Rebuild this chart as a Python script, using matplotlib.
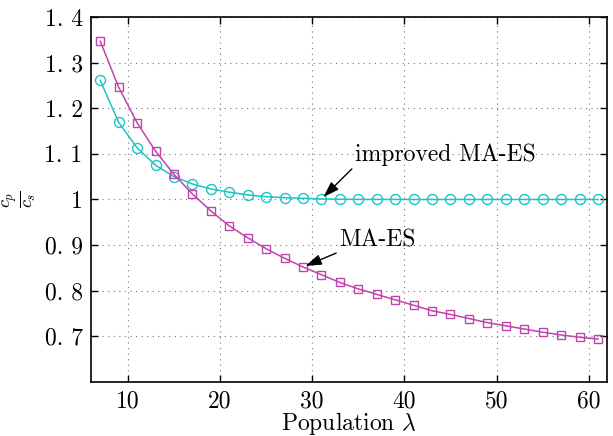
import matplotlib
matplotlib.use("Agg")
import matplotlib.pyplot as plt

plt.rcParams["font.family"] = "serif"
plt.rcParams["font.serif"] = ["cmr10", "DejaVu Serif"]
plt.rcParams["mathtext.fontset"] = "cm"
plt.rcParams["axes.unicode_minus"] = False
plt.rcParams["axes.formatter.use_mathtext"] = True

# population sizes
lam = list(range(7, 62, 2))

# c_p / c_s for the plain MA-ES
ma_es = [1.347, 1.246, 1.168, 1.106, 1.055, 1.012, 0.975, 0.942, 0.916,
         0.892, 0.871, 0.852, 0.835, 0.818, 0.804, 0.792, 0.780, 0.768,
         0.756, 0.748, 0.739, 0.730, 0.723, 0.716, 0.709, 0.703, 0.698,
         0.694]

# c_p / c_s for the improved MA-ES
improved = [1.261, 1.169, 1.113, 1.075, 1.050, 1.034, 1.023, 1.016, 1.010,
            1.006, 1.004, 1.0025, 1.001, 1.0005, 1.0003, 1.0002, 1.0001,
            1.0, 1.0, 1.0, 1.0, 1.0, 1.0, 1.0, 1.0, 1.0, 1.0, 1.0]

yticks = [0.7, 0.8, 0.9, 1.0, 1.1, 1.2, 1.3, 1.4]
ytick_labels = ["0. 7", "0. 8", "0. 9", "1", "1. 1", "1. 2", "1. 3", "1. 4"]
xticks = [10, 20, 30, 40, 50, 60]

fig = plt.figure(figsize=(6.13, 4.36), dpi=100)
ax = fig.add_axes([0.1485, 0.124, 0.842, 0.837])

cyan = "#1ec3c3"
mag = "#c044ac"

ax.plot(lam, improved, "-o", color=cyan, mfc="none", mec=cyan,
        ms=7.2, lw=1.1, mew=1.0)
ax.plot(lam, ma_es, "-s", color=mag, mfc="none", mec=mag,
        ms=5.6, lw=1.1, mew=1.0)

ax.set_xlim(6, 62)
ax.set_ylim(0.6, 1.4)
ax.set_xticks(xticks)
ax.set_xticklabels([str(t) for t in xticks])
ax.set_yticks(yticks)
ax.set_yticklabels(ytick_labels)

ax.grid(True, color="#777777", ls=(0, (1, 4)), lw=0.8)
ax.tick_params(direction="in", top=True, right=True, length=5, width=1,
               labelsize=17, pad=6)
for s in ax.spines.values():
    s.set_linewidth(1.2)

ax.set_xlabel(r"Population $\lambda$", fontsize=17, labelpad=-1.5)
ax.set_ylabel(r"$\frac{c_p}{c_s}$", fontsize=19, labelpad=5)

arrow = dict(arrowstyle="-|>,head_length=0.6,head_width=0.2",
             color="black", lw=1, shrinkA=0, shrinkB=2,
             mutation_scale=16, relpos=(0, 0))
ax.annotate("improved MA-ES", xy=(31, improved[12]), xytext=(34.6, 1.084),
            fontsize=17, ha="left", va="baseline", arrowprops=arrow)
ax.annotate("MA-ES", xy=(29, ma_es[11]), xytext=(32.9, 0.896),
            fontsize=17, ha="left", va="baseline", arrowprops=arrow)

fig.savefig("out.png", dpi=100)
